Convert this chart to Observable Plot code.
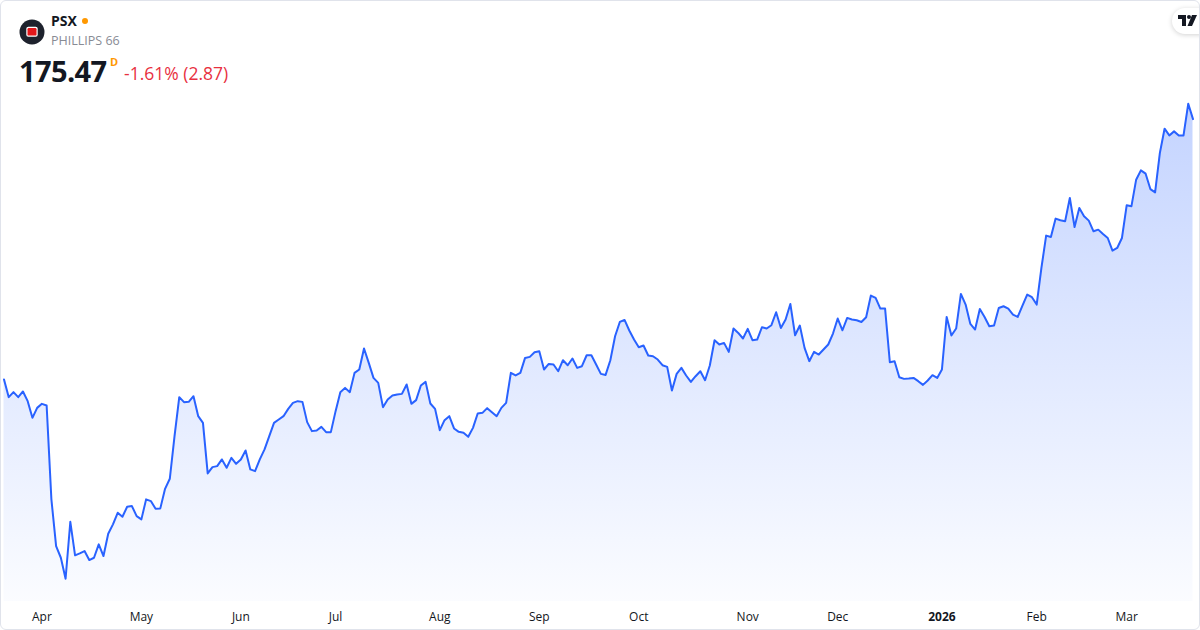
<!DOCTYPE html>
<html>
<head>
<meta charset="utf-8">
<script src="https://cdn.jsdelivr.net/npm/d3@7"></script>
<script src="https://cdn.jsdelivr.net/npm/@observablehq/plot@0.6"></script>
<style>
  html, body { margin: 0; padding: 0; background: #ffffff; overflow: hidden; }
  #wrap { position: relative; width: 1200px; height: 630px; box-sizing: border-box; border: 1px solid #e0e3eb; border-radius: 6px; overflow: hidden; font-family: "Open Sans", sans-serif; color: #131722; }
  #chart { position: absolute; left: -1px; top: -1px; }
  .hdr { position: absolute; white-space: nowrap; }
  #logo { position: absolute; left: 17px; top: 17px; }
  #sym { left: 50px; top: 10px; font-size: 14px; font-weight: 700; }
  #dot { position: absolute; left: 81px; top: 17px; width: 6px; height: 6px; border-radius: 50%; background: #ff9800; }
  #name { left: 50px; top: 31px; font-size: 12.5px; color: #888b94; }
  #price { left: 18px; top: 50px; font-size: 29px; font-weight: 700; letter-spacing: -0.6px; }
  #res { left: 109px; top: 53px; font-size: 11px; font-weight: 700; color: #ff9800; }
  #chg { left: 123px; top: 60px; font-size: 17.5px; color: #e8313f; }
  #tv { position: absolute; left: 1171px; top: 7px; width: 40px; height: 26px; border-radius: 13px; background: #fff; box-shadow: 0 1px 5px rgba(0,0,0,0.18); }
</style>
</head>
<body>
<div id="wrap">
  <div id="chart"></div>
  <svg id="logo" width="28" height="28" viewBox="0 0 28 28">
    <circle cx="14" cy="14" r="12.5" fill="#1e222d"/>
    <rect x="8.3" y="8.8" width="11.4" height="10" rx="2" fill="#ffffff"/>
    <rect x="9.5" y="10" width="9" height="7.6" rx="1.2" fill="#e3171b"/>
  </svg>
  <div class="hdr" id="sym">PSX</div>
  <div id="dot"></div>
  <div class="hdr" id="name">PHILLIPS 66</div>
  <div class="hdr" id="price">175.47</div>
  <div class="hdr" id="res">D</div>
  <div class="hdr" id="chg">-1.61% (2.87)</div>
  <div id="tv">
    <svg width="24" height="14" viewBox="0 0 24 14" style="position:absolute;left:5px;top:6px">
      <path d="M1 1 H9 V12 H5 V5 H1 Z" fill="#131722"/>
      <circle cx="12" cy="3" r="2" fill="#131722"/>
      <path d="M15 1 H20 L15 12 H10.5 Z" fill="#131722"/>
    </svg>
  </div>
</div>
<script>
// Daily closes of PSX, 20 Mar 2025 .. 20 Mar 2026 (one value per trading day)
const closes = [
  126.89,123.60,124.53,123.60,124.66,122.85,119.74,121.60,122.35,122.05,
  104.58,95.82,93.64,89.73,100.35,94.09,94.46,94.89,93.21,93.64,
  96.14,93.96,98.11,99.87,102.03,101.28,103.15,103.28,101.41,100.80,
  104.53,104.21,102.77,102.85,106.50,108.37,116.33,123.60,122.66,122.72,
  123.78,120.05,118.81,109.37,110.55,110.73,111.98,110.42,112.28,111.16,
  111.98,113.66,110.12,109.80,111.98,113.85,116.33,118.81,119.44,120.05,
  121.41,122.53,122.85,122.72,118.94,117.26,117.39,118.06,117.07,117.07,
  120.99,124.53,125.33,124.53,128.13,128.76,132.67,129.99,127.19,126.26,
  121.73,123.17,123.91,124.10,124.21,125.96,122.35,123.04,125.78,126.45,
  122.42,121.41,117.44,119.31,120.05,117.76,117.13,116.94,116.20,117.87,
  120.56,120.67,121.55,120.80,120.05,121.60,122.53,128.13,127.64,128.13,
  130.92,131.11,131.98,132.17,128.76,129.80,129.69,128.44,130.49,129.56,
  130.81,129.06,129.37,131.42,131.42,129.69,127.94,127.75,130.49,134.97,
  137.63,138.00,136.03,134.35,132.92,133.23,131.37,131.24,130.62,129.56,
  129.24,124.84,127.94,129.06,127.64,126.45,127.51,128.44,126.76,129.50,
  134.22,133.42,133.72,132.04,136.40,135.58,134.54,136.33,134.22,134.35,
  136.64,136.40,137.02,139.44,136.51,138.08,140.99,135.15,136.96,132.79,
  130.31,132.04,131.55,132.49,133.42,135.47,138.26,136.08,138.38,138.08,
  137.95,137.63,138.51,142.55,142.11,140.13,140.13,130.12,130.31,127.32,
  127.01,127.08,127.19,126.58,125.89,126.71,127.70,127.19,128.76,138.56,
  135.10,136.40,142.85,140.87,137.26,136.21,140.05,138.56,136.83,136.96,
  140.24,140.56,140.13,139.01,138.56,140.69,142.74,142.24,140.87,147.70,
  153.74,153.48,156.91,156.59,156.40,160.75,155.34,158.88,157.33,156.53,
  154.54,154.85,154.03,153.29,150.94,151.43,153.29,159.38,159.20,164.17,
  165.91,165.29,162.42,161.81,169.13,173.68,172.43,173.18,172.43,172.43,
  178.34,175.47
];
// Trading-day index of the first session of each month, with its label
const monthTicks  = [8, 29, 50, 70, 92, 113, 134, 157, 176, 198, 218, 237];
const monthLabels = ["Apr","May","Jun","Jul","Aug","Sep","Oct","Nov","Dec","2026","Feb","Mar"];
const yearTick = "2026";

const data = closes.map((c, i) => ({i, c}));
const labelOf = new Map(monthTicks.map((t, k) => [t, monthLabels[k]]));
const plainTicks = monthTicks.filter(t => labelOf.get(t) !== yearTick);
const boldTicks = monthTicks.filter(t => labelOf.get(t) === yearTick);
const base = 85.5;

const chart = Plot.plot({
  width: 1200,
  height: 630,
  marginTop: 0, marginLeft: 0, marginRight: 0, marginBottom: 30,
  style: {fontFamily: "'Open Sans', sans-serif", fontSize: "12px", background: "transparent", overflow: "visible"},
  x: {type: "linear", domain: [0, closes.length - 1], range: [3.5, 1193.5], label: null},
  y: {domain: [80, 180], range: [630.9, 94.4], axis: null, label: null},
  marks: [
    Plot.areaY(data, {x: "i", y1: base, y2: "c", fill: "url(#psxFill)"}),
    Plot.lineY(data, {x: "i", y: "c", stroke: "#2962ff", strokeWidth: 2, strokeLinejoin: "round"}),
    Plot.axisX({ticks: plainTicks, tickFormat: t => labelOf.get(t), tickSize: 0, tickPadding: 13, fill: "#131722", fontSize: 12, label: null}),
    Plot.axisX({ticks: boldTicks, tickFormat: t => labelOf.get(t), tickSize: 0, tickPadding: 13, fill: "#131722", fontSize: 12, fontWeight: "bold", label: null})
  ]
});
chart.insertAdjacentHTML("afterbegin",
  `<defs><linearGradient id="psxFill" gradientUnits="userSpaceOnUse" x1="0" y1="95" x2="0" y2="601">
     <stop offset="0" stop-color="#2962ff" stop-opacity="0.28"/>
     <stop offset="1" stop-color="#2962ff" stop-opacity="0.02"/>
   </linearGradient></defs>`);
document.getElementById("chart").appendChild(chart);
</script>
</body>
</html>
